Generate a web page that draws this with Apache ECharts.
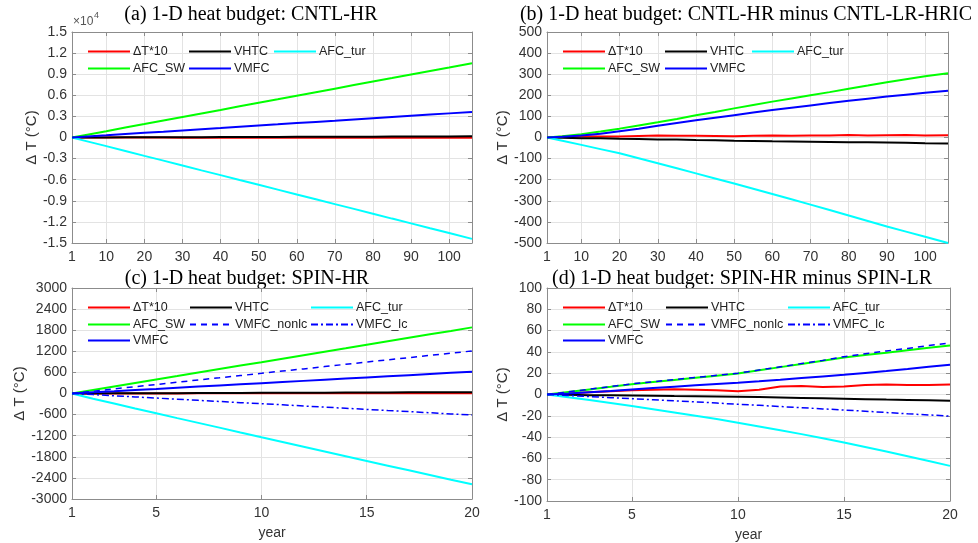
<!DOCTYPE html>
<html><head><meta charset="utf-8">
<script src="https://cdn.jsdelivr.net/npm/echarts@6/dist/echarts.min.js"></script>
<style>html,body{margin:0;padding:0;background:#fff}#c{width:978px;height:543px}</style>
</head><body><div id="c"></div>
<script>
// ---------- data ----------
const yearsAB = [1,5,10,15,20,25,30,35,40,45,50,55,60,65,70,75,80,85,90,95,100,106];
const yearsCD = [1,2,3,4,5,6,7,8,9,10,11,12,13,14,15,16,17,18,19,20];
const ticksAB = [1,10,20,30,40,50,60,70,80,90,100];
const ticksCD = [1,5,10,15,20];

// (a) CNTL-HR
const a_dT10   = [0,-5,-10,-10,-15,-15,-20,-20,-20,-25,-25,-25,-30,-30,-30,-30,-35,-35,-35,-40,-40,-40];
const a_VHTC   = [0,5,15,20,30,35,45,50,60,65,75,80,90,95,105,110,120,125,135,140,150,160];
const a_AFCtur = [0,-550,-1230,-1920,-2610,-3290,-3980,-4670,-5350,-6040,-6720,-7410,-8100,-8780,-9470,-10150,-10840,-11530,-12210,-12900,-13580,-14410];
const a_AFCSW  = [0,400,900,1410,1910,2420,2920,3420,3920,4430,4930,5430,5940,6440,6940,7450,7950,8450,8960,9460,9960,10570];
const a_VMFC   = [0,140,310,490,660,830,1010,1180,1350,1530,1700,1870,2050,2220,2390,2570,2740,2910,3090,3260,3430,3640];

// (b) CNTL-HR minus CNTL-LR-HRIC
const b_dT10   = [0,3,6,5,5,7,9,8,8,7,6,8,9,8,9,10,12,10,11,12,10,11];
const b_VHTC   = [0,-1,-3,-4,-6,-7,-9,-10,-12,-13,-15,-16,-18,-19,-20,-21,-22,-23,-24,-25,-27,-28];
const b_AFCtur = [0,-15,-35,-55,-75,-98,-122,-146,-170,-194,-218,-243,-268,-293,-318,-344,-370,-396,-422,-446,-470,-500];
const b_AFCSW  = [0,6,16,28,42,57,72,88,105,121,138,154,170,185,200,215,231,246,262,276,290,305];
const b_VMFC   = [0,3,9,18,30,42,56,69,82,94,106,118,130,141,152,163,174,184,194,203,212,222];

// (c) SPIN-HR
const c_dT10   = [0,1,2,2,3,3,4,4,5,5,6,6,7,7,8,8,9,9,10,10];
const c_VHTC   = [0,2,4,6,8,10,12,14,16,18,20,22,24,26,28,30,32,34,36,38];
const c_AFCtur = [0,-150,-285,-425,-563,-700,-835,-970,-1108,-1245,-1380,-1515,-1650,-1785,-1919,-2052,-2185,-2318,-2450,-2580];
const c_AFCSW  = [0,100,200,300,400,495,595,695,795,890,990,1090,1190,1285,1385,1485,1585,1685,1780,1880];
const c_VMFCnonlc = [0,65,130,195,255,320,385,445,510,573,640,700,765,830,895,955,1020,1085,1145,1210];
const c_VMFClc = [0,-32,-65,-97,-130,-162,-195,-227,-260,-290,-322,-355,-387,-420,-452,-485,-515,-548,-580,-611];
const c_VMFC   = [0,33,65,98,130,163,196,228,261,294,327,359,392,425,457,490,522,555,588,620];

// (d) SPIN-HR minus SPIN-LR
const d_dT10   = [0,1,2,3,4,4.5,5,4.5,4,3,4.5,7.5,8,7,7.5,9,9.5,9,9,9.5];
const d_VHTC   = [0,-0.3,-0.6,-0.8,-1,-1.2,-1.5,-1.7,-1.9,-2.1,-2.4,-2.8,-3.2,-3.6,-4,-4.4,-4.8,-5.1,-5.5,-5.9];
const d_AFCtur = [0,-2.5,-5.2,-8,-10.8,-13.8,-16.8,-19.9,-23.1,-26.5,-30,-33.5,-37.2,-41,-45,-49.3,-53.6,-58,-62.5,-67];
const d_AFCSW  = [0,2.4,4.8,7.2,9.7,11.7,13.7,15.7,17.7,19.7,22.7,25.7,28.7,31.7,34.7,37,39.3,41.6,43.9,46];
const d_VMFCnonlc = [0,2.5,5,7.5,10,12,14,16,18,20,23,26,29,32,35.5,38.2,40.9,43.3,45.9,48.4];
const d_VMFClc = [0,-1,-2,-3,-4,-5,-6,-7,-8,-9.2,-10.2,-11.3,-12.4,-13.5,-14.6,-15.7,-16.9,-18.1,-19.2,-20.3];
const d_VMFC   = [0,1,2.2,3.4,4.7,6,7.3,8.6,9.9,11.1,12.4,13.9,15.5,17,18.5,20.3,22.1,24,26,28];

const titles = [
  '(a) 1-D heat budget: CNTL-HR',
  '(b) 1-D heat budget: CNTL-HR minus CNTL-LR-HRIC',
  '(c) 1-D heat budget: SPIN-HR',
  '(d) 1-D heat budget: SPIN-HR minus SPIN-LR'
];

// ---------- styles ----------
const SANS = '"Liberation Sans", Arial, sans-serif';
const SERIF = '"Liberation Serif", "Times New Roman", serif';
const STY = {
  'ΔT*10':      {color:'#ff0000', width:2, type:'solid'},
  'VHTC':       {color:'#000000', width:2, type:'solid'},
  'AFC_tur':    {color:'#00ffff', width:2, type:'solid'},
  'AFC_SW':     {color:'#00ff00', width:2, type:'solid'},
  'VMFC_nonlc': {color:'#0000ff', width:1.5, type:[6,5]},
  'VMFC_lc':    {color:'#0000ff', width:1.5, type:[7,3,2,3]},
  'VMFC':       {color:'#0000ff', width:2, type:'solid'}
};

const panels = [
  {grid:{left:72, top:32, width:400, height:211}, xmin:1, xmax:106, xt:ticksAB, ymin:-15000, ymax:15000, yint:3000,
   fmt:v => v===0 ? '0' : (v/1e4).toFixed(1), nameGap:30, xname:'',
   x:yearsAB, series:[['ΔT*10',a_dT10],['VHTC',a_VHTC],['AFC_tur',a_AFCtur],['AFC_SW',a_AFCSW],['VMFC',a_VMFC]],
   leg:{cols:[87,188,273], rows:[52,69], items:[['ΔT*10',0,0],['VHTC',1,0],['AFC_tur',2,0],['AFC_SW',0,1],['VMFC',1,1]]}},
  {grid:{left:547, top:32, width:401, height:211}, xmin:1, xmax:106, xt:ticksAB, ymin:-500, ymax:500, yint:100,
   fmt:v => String(v), nameGap:36, xname:'',
   x:yearsAB, series:[['ΔT*10',b_dT10],['VHTC',b_VHTC],['AFC_tur',b_AFCtur],['AFC_SW',b_AFCSW],['VMFC',b_VMFC]],
   leg:{cols:[562,664,751], rows:[52,69], items:[['ΔT*10',0,0],['VHTC',1,0],['AFC_tur',2,0],['AFC_SW',0,1],['VMFC',1,1]]}},
  {grid:{left:72, top:288, width:400, height:211}, xmin:1, xmax:20, xt:ticksCD, ymin:-3000, ymax:3000, yint:600,
   fmt:v => String(v), nameGap:43, xname:'year',
   x:yearsCD, series:[['ΔT*10',c_dT10],['VHTC',c_VHTC],['AFC_tur',c_AFCtur],['AFC_SW',c_AFCSW],['VMFC_nonlc',c_VMFCnonlc],['VMFC_lc',c_VMFClc],['VMFC',c_VMFC]],
   leg:{cols:[87,189,310], rows:[308,325,341], items:[['ΔT*10',0,0],['VHTC',1,0],['AFC_tur',2,0],['AFC_SW',0,1],['VMFC_nonlc',1,1],['VMFC_lc',2,1],['VMFC',0,2]]}},
  {grid:{left:547, top:288, width:403, height:213}, xmin:1, xmax:20, xt:ticksCD, ymin:-100, ymax:100, yint:20,
   fmt:v => String(v), nameGap:37, xname:'year',
   x:yearsCD, series:[['ΔT*10',d_dT10],['VHTC',d_VHTC],['AFC_tur',d_AFCtur],['AFC_SW',d_AFCSW],['VMFC_nonlc',d_VMFCnonlc],['VMFC_lc',d_VMFClc],['VMFC',d_VMFC]],
   leg:{cols:[562,665,787], rows:[308,325,341], items:[['ΔT*10',0,0],['VHTC',1,0],['AFC_tur',2,0],['AFC_SW',0,1],['VMFC_nonlc',1,1],['VMFC_lc',2,1],['VMFC',0,2]]}}
];

const AX = '#8c8c8c';
const grids = [], xAxes = [], yAxes = [], series = [], legends = [];
panels.forEach((p, i) => {
  grids.push(Object.assign({containLabel:false}, p.grid));
  xAxes.push({type:'value', gridIndex:i, min:p.xmin, max:p.xmax, position:'bottom',
    name:p.xname, nameLocation:'middle', nameGap:27,
    nameTextStyle:{fontFamily:SANS, fontSize:14, color:'#333'},
    axisLine:{show:true, onZero:false, lineStyle:{color:AX, width:1}},
    axisTick:{show:true, inside:true, length:4, customValues:p.xt, lineStyle:{color:AX}},
    axisLabel:{show:true, customValues:p.xt, margin:7, fontFamily:SANS, fontSize:14, color:'#333'},
    splitLine:{show:true, lineStyle:{color:'#e3e3e3', width:1}}
  });
  xAxes.push({type:'value', gridIndex:i, min:p.xmin, max:p.xmax, position:'top',
    axisLine:{show:true, onZero:false, lineStyle:{color:AX, width:1}},
    axisTick:{show:true, inside:true, length:4, customValues:p.xt, lineStyle:{color:AX}},
    axisLabel:{show:false}, splitLine:{show:false}
  });
  yAxes.push({type:'value', gridIndex:i, min:p.ymin, max:p.ymax, interval:p.yint, position:'left',
    name:'Δ T (°C)', nameLocation:'middle', nameRotate:90, nameGap:p.nameGap,
    nameTextStyle:{fontFamily:SANS, fontSize:15, color:'#333'},
    axisLine:{show:true, onZero:false, lineStyle:{color:AX, width:1}},
    axisTick:{show:true, inside:true, length:4, lineStyle:{color:AX}},
    axisLabel:{show:true, margin:5, fontFamily:SANS, fontSize:14, color:'#333', formatter:p.fmt},
    splitLine:{show:true, lineStyle:{color:'#e3e3e3', width:1}}
  });
  yAxes.push({type:'value', gridIndex:i, min:p.ymin, max:p.ymax, interval:p.yint, position:'right',
    axisLine:{show:true, onZero:false, lineStyle:{color:AX, width:1}},
    axisTick:{show:true, inside:true, length:4, lineStyle:{color:AX}},
    axisLabel:{show:false}, splitLine:{show:false}
  });
  p.series.forEach(([name, vals]) => {
    const s = STY[name];
    series.push({type:'line', name:name, xAxisIndex:2*i, yAxisIndex:2*i,
      data:p.x.map((x, k) => [x, vals[k]]),
      symbol:'none', showSymbol:false, smooth:false, silent:true,
      lineStyle:{color:s.color, width:s.width, type:s.type},
      itemStyle:{color:s.color}
    });
  });
  p.leg.items.forEach(([name, c, r]) => {
    legends.push({data:[name], left:p.leg.cols[c], top:p.leg.rows[r]-7, padding:0,
      itemWidth:42, itemHeight:14, itemGap:0, selectedMode:false, orient:'horizontal',
      itemStyle:{opacity:0, color:'rgba(0,0,0,0)', borderWidth:0},
      textStyle:{fontFamily:SANS, fontSize:12.5, color:'#222', padding:[0,0,0,-2]}
    });
  });
});

const graphic = [
  {type:'text', x:251, y:15, style:{text:titles[0], fontFamily:SERIF, fontSize:20, fill:'#000', align:'center', verticalAlign:'middle'}},
  {type:'text', x:746, y:15, style:{text:titles[1], fontFamily:SERIF, fontSize:20, fill:'#000', align:'center', verticalAlign:'middle'}},
  {type:'text', x:247, y:279, style:{text:titles[2], fontFamily:SERIF, fontSize:20, fill:'#000', align:'center', verticalAlign:'middle'}},
  {type:'text', x:742, y:279, style:{text:titles[3], fontFamily:SERIF, fontSize:20, fill:'#000', align:'center', verticalAlign:'middle'}},
  {type:'text', x:73, y:22, style:{text:'×10', fontFamily:SANS, fontSize:12, fill:'#555', align:'left', verticalAlign:'middle'}},
  {type:'text', x:94, y:16, style:{text:'4', fontFamily:SANS, fontSize:9, fill:'#555', align:'left', verticalAlign:'middle'}}
];

const chart = echarts.init(document.getElementById('c'), null, {renderer:'canvas'});
chart.setOption({
  animation:false,
  backgroundColor:'#fff',
  grid:grids, xAxis:xAxes, yAxis:yAxes, series:series, legend:legends, graphic:graphic
});
</script></body></html>
